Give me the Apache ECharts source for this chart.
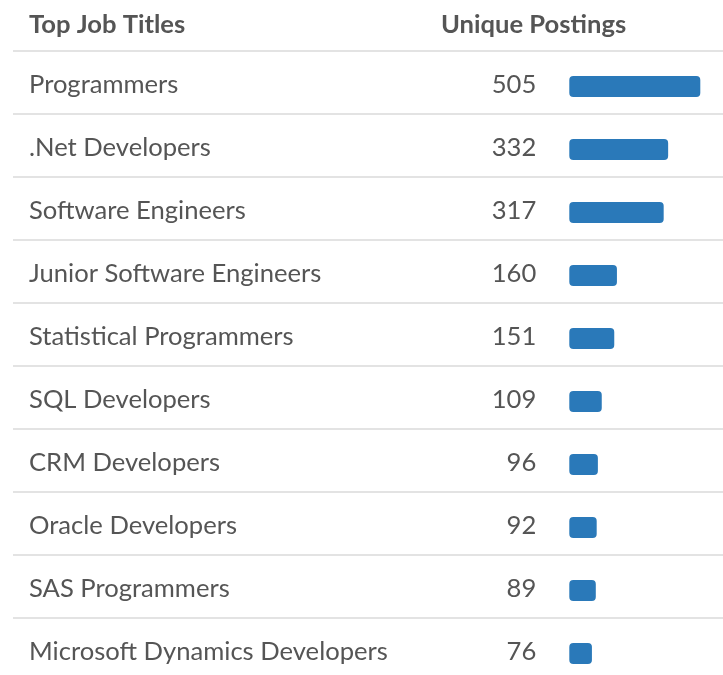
<!DOCTYPE html>
<html>
<head>
<meta charset="utf-8">
<script src="https://cdn.jsdelivr.net/npm/echarts@6/dist/echarts.min.js"></script>
<style>
  html, body { margin: 0; padding: 0; background: #fff; }
  #chart { width: 723px; height: 675px; }
</style>
</head>
<body>
<div id="chart"></div>
<script>
// data
const titles = [
  "Programmers",
  ".Net Developers",
  "Software Engineers",
  "Junior Software Engineers",
  "Statistical Programmers",
  "SQL Developers",
  "CRM Developers",
  "Oracle Developers",
  "SAS Programmers",
  "Microsoft Dynamics Developers",
];
const postings = [505, 332, 317, 160, 151, 109, 96, 92, 89, 76];
const headers = ["Top Job Titles", "Unique Postings"];

const FONT = "Lato, 'Open Sans', sans-serif";
const TEXT = "#555555";
const BAR = "#2a79b9";
const ROW = 63;
const FS = 25.6;

const chart = echarts.init(document.getElementById("chart"), null, { renderer: "canvas" });

chart.setOption({
  animation: false,
  backgroundColor: "#ffffff",
  title: [
    {
      text: headers[0],
      left: 29,
      top: 12,
      padding: 0,
      textStyle: { fontFamily: FONT, fontSize: FS, fontWeight: "bold", color: TEXT },
    },
    {
      text: headers[1],
      left: 441,
      top: 12,
      padding: 0,
      textStyle: { fontFamily: FONT, fontSize: FS, fontWeight: "bold", color: TEXT },
    },
  ],
  grid: [
    // full width rows: titles + separators
    { left: 13, right: 0, top: 50.5, height: ROW * titles.length, outerBoundsMode: "none" },
    // bar column
    { left: 569.3, width: 131, top: 55, height: ROW * titles.length, outerBoundsMode: "none" },
  ],
  xAxis: [
    { gridIndex: 0, type: "value", min: 0, max: 1, show: false },
    { gridIndex: 1, type: "value", min: 0, max: 440, show: false },
  ],
  yAxis: [
    {
      gridIndex: 0,
      type: "category",
      data: titles,
      inverse: true,
      axisLine: { show: false },
      axisTick: { show: false },
      splitLine: { show: true, lineStyle: { color: "#e3e3e3", width: 2 } },
      axisLabel: {
        inside: true,
        margin: 16,
        verticalAlign: "top",
        lineHeight: 6,
        fontFamily: FONT,
        fontSize: FS,
        color: TEXT,
      },
    },
    {
      gridIndex: 1,
      type: "category",
      data: titles,
      inverse: true,
      show: false,
    },
  ],
  series: [
    {
      type: "bar",
      xAxisIndex: 1,
      yAxisIndex: 1,
      data: postings,
      barWidth: 21,
      clip: true,
      itemStyle: { color: BAR, borderRadius: 4 },
      label: {
        show: true,
        position: "left",
        distance: 33,
        offset: [0, -2],
        fontFamily: FONT,
        fontSize: FS,
        color: TEXT,
      },
    },
  ],
});
</script>
</body>
</html>
